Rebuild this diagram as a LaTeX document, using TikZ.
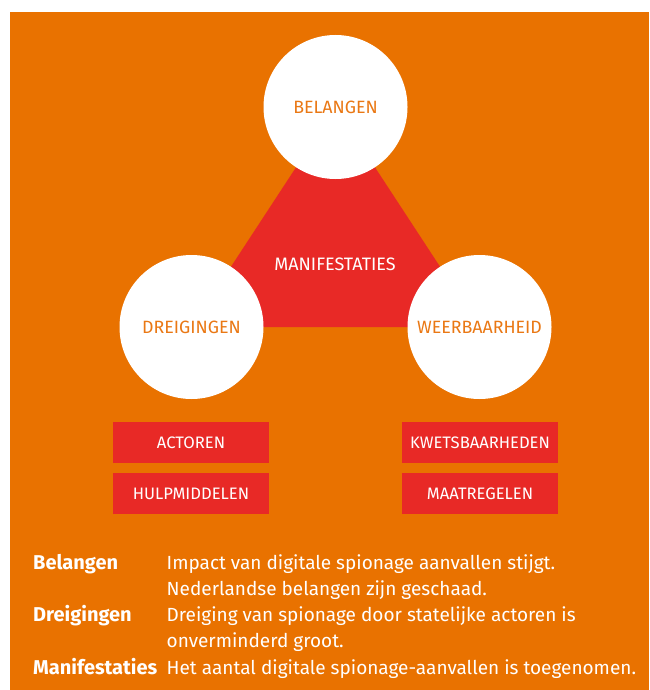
\documentclass[tikz,border=0pt]{standalone}
\usepackage{fontspec}
\setmainfont{Fira Sans}
\definecolor{bgorange}{RGB}{233,114,0}
\definecolor{txtorange}{RGB}{234,120,20}
\definecolor{boxred}{RGB}{232,41,38}
\begin{document}
\begin{tikzpicture}[x=1pt,y=-1pt,
  circ/.style={circle,fill=white,minimum size=144pt,inner sep=0pt,text=txtorange,font=\fontsize{17.8}{20}\selectfont},
  redbox/.style={rectangle,fill=boxred,minimum width=156pt,minimum height=41.5pt,inner sep=0pt,text=white,font=\fontsize{16.6}{19}\selectfont},
  lbl/.style={anchor=base west,inner sep=0pt,text=white,font=\fontsize{20}{22}\selectfont\bfseries},
  desc/.style={anchor=base west,inner sep=0pt,text=white,font=\fontsize{19}{22}\selectfont}]
\useasboundingbox (0,0) rectangle (649,690);
\fill[bgorange] (10,12) rectangle (649,690);
\coordinate (cb) at (335.5,107);
\coordinate (cd) at (191.5,327);
\coordinate (cw) at (479.5,327);
\fill[boxred] (cb) -- (cd) -- (cw) -- cycle;
\node[circ] (bel) at (cb) {BELANGEN};
\node[circ] (dre) at (cd) {DREIGINGEN};
\node[circ] (wee) at (cw) {WEERBAARHEID};
\node[inner sep=0pt,text=white,font=\fontsize{18}{20}\selectfont] (man) at (335,264) {MANIFESTATIES};
\node[redbox] (act) at (191,442.5) {ACTOREN};
\node[redbox] (hulp) at (191,493.5) {HULPMIDDELEN};
\node[redbox] (kwe) at (480,442.5) {KWETSBAARHEDEN};
\node[redbox] (maa) at (480,493.5) {MAATREGELEN};
\node[lbl] (l1) at (33,569) {Belangen};
\node[desc] (d1) at (166.5,569) {Impact van digitale spionage aanvallen stijgt.};
\node[desc] (d2) at (166.5,595.3) {Nederlandse belangen zijn geschaad.};
\node[lbl] (l2) at (33,621.5) {Dreigingen};
\node[desc] (d3) at (166.5,621.5) {Dreiging van spionage door statelijke actoren is};
\node[desc] (d4) at (166.5,647.8) {onverminderd groot.};
\node[lbl] (l3) at (33,674) {Manifestaties};
\node[desc] (d5) at (166.5,674) {Het aantal digitale spionage-aanvallen is toegenomen.};
\end{tikzpicture}
\end{document}
